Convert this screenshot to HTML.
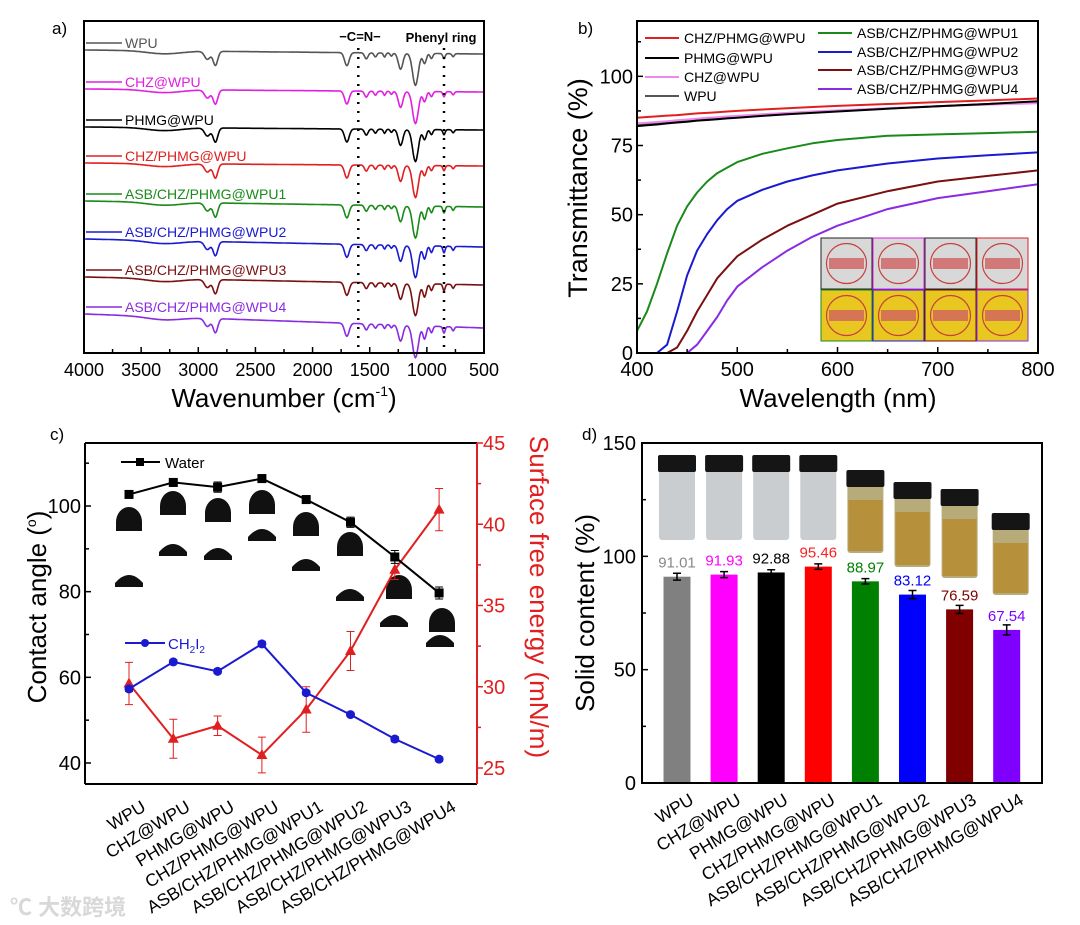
<!DOCTYPE html>
<html><head><meta charset="utf-8">
<style>
html,body{margin:0;padding:0;background:#fff;}
svg{display:block;font-family:"Liberation Sans","Noto Sans CJK SC",sans-serif;}
</style></head>
<body>
<svg id="fig" width="1080" height="925" viewBox="0 0 1080 925" xmlns="http://www.w3.org/2000/svg">
<g id="pa"></g>
<g id="pb"></g>
<g id="pc"></g>
<g id="pd"></g>
<text x="10" y="915" font-size="22" fill="#d8d8d8" font-weight="bold">℃ 大数跨境</text>
</svg>
<script>
// ---------- shared data ----------
const sampleNames = ["WPU","CHZ@WPU","PHMG@WPU","CHZ/PHMG@WPU","ASB/CHZ/PHMG@WPU1","ASB/CHZ/PHMG@WPU2","ASB/CHZ/PHMG@WPU3","ASB/CHZ/PHMG@WPU4"];
const sampleColors = ["#555555","#e020e0","#000000","#e02020","#1a8a1a","#1a1ad0","#7a1010","#8a2be2"];
// panel a: FTIR
const ftirDipCenters = [3300,2920,2850,1700,1530,1450,1370,1310,1230,1100,1020,960,850,770];
const ftirDipDepths  = [3,   8,   14,  13,  6,   4,   4,   3,   16,  32,  10,  5,   5,   3];
const ftirDipWidths  = [150, 25,  20,  20,  15,  12,  10,  10,  20,  25,  15,  12,  10,  10];
const ftirBaselines  = [50,89,127,163,201,239,277,314];
const ftirRightDrift = [4,3,3,3,6,8,8,14];
const ftirXTicks = [4000,3500,3000,2500,2000,1500,1000,500];
// panel b: UV-vis
const uvX = [400,410,420,430,440,450,460,470,480,490,500,525,550,575,600,650,700,750,800];
const uvRed   = [85,85.3,85.5,85.8,86,86.3,86.6,86.8,87,87.3,87.5,88,88.5,88.9,89.3,90,90.7,91.3,92];
const uvBlack = [82,82.3,82.6,83,83.3,83.6,84,84.2,84.5,84.8,85,85.7,86.3,86.8,87.3,88.3,89.2,90,91];
const uvPink  = [83,83.2,83.5,83.8,84.1,84.4,84.7,85,85.2,85.5,85.7,86.3,86.8,87.3,87.7,88.5,89.2,89.8,90.3];
const uvGray  = [82.5,82.8,83,83.3,83.6,83.9,84.2,84.5,84.8,85,85.3,86,86.5,87,87.5,88.4,89.2,90,90.8];
const uvGreen = [8,15,25,36,46,53,58,62,65,67,69,72,74,75.8,77,78.5,79,79.5,80];
const uvBlue  = [0,0,0,3,15,28,37,43,48,52,55,59,62,64.2,66,68.5,70.3,71.5,72.5];
const uvDark  = [0,0,0,0,2,8,15,21,27,31,35,41,46,50,54,58.5,62,64,66];
const uvPurp  = [0,0,0,0,0,0,3,8,13,19,24,31,37,42,46,52,56,58.5,61];
const uvXTicks = [400,500,600,700,800];
const uvYTicks = [0,25,50,75,100];
// panel c
const waterAngle = [102.7,105.5,104.4,106.4,101.5,96.2,88.1,79.7];
const waterErr   = [0.8,0.9,1.2,0.9,0.9,1.2,1.5,1.4];
const diioAngle  = [57.3,63.6,61.4,67.8,56.4,51.3,45.6,40.9];
const diioErr    = [0.6,0.5,0.5,0.6,0.5,0.4,0.6,0.5];
const sfe        = [30.2,26.8,27.6,25.8,28.6,32.2,37.2,40.9];
const sfeErr     = [1.3,1.2,0.6,1.1,1.4,1.2,0.6,1.3];
const caYTicks = [40,60,80,100];
const sfeYTicks = [25,30,35,40,45];
// panel d
const solidContent = [91.01,91.93,92.88,95.46,88.97,83.12,76.59,67.54];
const solidErr     = [1.5,1.3,1.2,1.2,1.2,1.8,1.8,2.2];
const solidLabels  = ["91.01","91.93","92.88","95.46","88.97","83.12","76.59","67.54"];
const solidYTicks  = [0,50,100,150];

const NS="http://www.w3.org/2000/svg";
function mk(parent,tag,attrs,txt){const e=document.createElementNS(NS,tag);for(const k in attrs)e.setAttribute(k,attrs[k]);if(txt!==undefined)e.textContent=txt;parent.appendChild(e);return e;}

// ---------- Panel A ----------
(function(){
const g=document.getElementById('pa');
const L=84,R=484,T=21,B=353;
const xs=w=>L+(4000-w)*(R-L)/3500;
mk(g,'text',{x:52,y:34,'font-size':17,},'a)');
ftirBaselines.forEach((b,i)=>{
  let d='';
  for(let w=3990;w>=505;w-=5){
    let y=b+ftirRightDrift[i]*(4000-w)/3500;
    for(let k=0;k<ftirDipCenters.length;k++){
      const s=(i>=4&&k>=10)?1.3:1;
      y+=ftirDipDepths[k]*s*Math.exp(-Math.pow((w-ftirDipCenters[k])/ftirDipWidths[k],2)/2);
    }
    d+=(d?'L':'M')+xs(w).toFixed(1)+','+y.toFixed(1);
  }
  const p=mk(g,'path',{d:d,fill:'none',stroke:sampleColors[i],'stroke-width':1.6});
  
  
  const ly=b-7;
  const ln=mk(g,'line',{x1:86,x2:122,y1:ly,y2:ly,stroke:sampleColors[i],'stroke-width':1.6});
  
  
  const t=mk(g,'text',{x:125,y:ly+5,'font-size':14,fill:sampleColors[i]},sampleNames[i]);
  
  
});
[1600,850].forEach(w=>{const l=mk(g,'line',{x1:xs(w),x2:xs(w),y1:48,y2:353,stroke:'#000','stroke-width':2.5,'stroke-dasharray':'2,7'});
});
mk(g,'text',{x:360,y:41,'font-size':13,'font-weight':'bold','text-anchor':'middle',},'−C=N−');
mk(g,'text',{x:441,y:42,'font-size':13,'font-weight':'bold','text-anchor':'middle',},'Phenyl ring');
mk(g,'rect',{x:L,y:T,width:R-L,height:B-T,fill:'none',stroke:'#000','stroke-width':2,});
for(let w=4000;w>=500;w-=250){const x=xs(w);mk(g,'line',{x1:x,x2:x,y1:B,y2:B-(w%500==0?6:4),stroke:'#000','stroke-width':1.5});}
ftirXTicks.forEach(w=>{const t=mk(g,'text',{x:xs(w),y:376,'font-size':18,'text-anchor':'middle'},String(w));
});
const xl=mk(g,'text',{x:284,y:407,'font-size':26,'text-anchor':'middle',},'Wavenumber (cm');
mk(xl,'tspan',{'font-size':14,dy:-11},'-1');mk(xl,'tspan',{dy:11},')');
})();

// ---------- Panel B ----------
(function(){
const g=document.getElementById('pb');
const L=637,R=1038,T=21,B=353;
const xs=v=>L+(v-400)*(R-L)/400, ys=v=>B-v*(B-T)/120;
mk(g,'text',{x:578,y:34,'font-size':17,},'b)');
const bordersTop=['#222','#e020e0','#222','#e02020'],bordersBot=['#1a8a1a','#1a1ad0','#7a1010','#8a2be2'];
for(let r=0;r<2;r++)for(let c=0;c<4;c++){
  const x=821+c*52,y=238+r*52;
  const rc=mk(g,'rect',{x:x,y:y,width:51,height:51,fill:r?'#e8c820':'#d8d8d8',stroke:r?bordersBot[c]:bordersTop[c],'stroke-width':1});
  
  mk(g,'circle',{cx:x+25.5,cy:y+25.5,r:20,fill:'none',stroke:'#c84040','stroke-width':1.2});
  mk(g,'rect',{x:x+8,y:y+20,width:35,height:11,fill:'#d06060',opacity:0.8});
}
const series=[[uvGray,'#555'],[uvPink,'#ee88ee'],[uvBlack,'#000'],[uvRed,'#e02020'],[uvGreen,'#1a8a1a'],[uvBlue,'#1a1ad0'],[uvDark,'#7a1010'],[uvPurp,'#8a2be2']];
series.forEach((s,i)=>{
  const pts=uvX.map((v,j)=>xs(v).toFixed(1)+','+ys(s[0][j]).toFixed(1)).join(' ');
  const p=mk(g,'polyline',{points:pts,fill:'none',stroke:s[1],'stroke-width':2,'stroke-linejoin':'round'});
  
});
mk(g,'rect',{x:L,y:T,width:R-L,height:B-T,fill:'none',stroke:'#000','stroke-width':2,});
for(let v=400;v<=800;v+=50){mk(g,'line',{x1:xs(v),x2:xs(v),y1:B,y2:B-(v%100==0?6:4),stroke:'#000','stroke-width':1.5});}
for(let v=0;v<=112.5;v+=12.5){mk(g,'line',{x1:L,x2:L+(v%25==0?6:4),y1:ys(v),y2:ys(v),stroke:'#000','stroke-width':1.5});}
uvXTicks.forEach(v=>{const t=mk(g,'text',{x:xs(v),y:376,'font-size':20,'text-anchor':'middle'},String(v));
});
uvYTicks.forEach(v=>{const t=mk(g,'text',{x:L-4,y:ys(v)+7,'font-size':20,'text-anchor':'end'},String(v));
});
mk(g,'text',{x:838,y:407,'font-size':26,'text-anchor':'middle',},'Wavelength (nm)');
mk(g,'text',{x:0,y:0,'font-size':27,'text-anchor':'middle',transform:'translate(587,188) rotate(-90)',},'Transmittance (%)');
const leg=[['CHZ/PHMG@WPU','#e02020',645,684,38],['PHMG@WPU','#000',645,684,58],['CHZ@WPU','#ee88ee',645,684,77],['WPU','#555',645,684,96],
['ASB/CHZ/PHMG@WPU1','#1a8a1a',818,857,33],['ASB/CHZ/PHMG@WPU2','#1a1ad0',818,857,52],['ASB/CHZ/PHMG@WPU3','#7a1010',818,857,70],['ASB/CHZ/PHMG@WPU4','#8a2be2',818,857,89]];
leg.forEach(l=>{mk(g,'line',{x1:l[2],x2:l[2]+34,y1:l[4],y2:l[4],stroke:l[1],'stroke-width':2});
const t=mk(g,'text',{x:l[3],y:l[4]+5,'font-size':14},l[0]);});
})();

// ---------- Panel C ----------
(function(){
const g=document.getElementById('pc');
const L=85,R=477,T=443,B=784;
const xs=i=>129+i*44.3;
const yl=v=>763-(v-40)*257/60;
const yr=v=>768-(v-25)*325/20;
mk(g,'text',{x:50,y:440,'font-size':17,},'c)');
const wdy=[522,506,513,505,527,547,590,623];
const ddy=[583,552,556,537,567,597,623,643];
sampleNames.forEach((n,i)=>{
  const cxw=[129,173,218,262,306,350,399,442][i], cxd=[129,173,218,262,306,350,394,440][i];
  const w=mk(g,'path',{d:`M${cxw-13},${wdy[i]+9} L${cxw-13},${wdy[i]} A13,15 0 0 1 ${cxw+13},${wdy[i]} L${cxw+13},${wdy[i]+9}Z`,fill:'#111'});
  
  const d=mk(g,'path',{d:`M${cxd-14},${ddy[i]+4} L${cxd-14},${ddy[i]} Q${cxd},${ddy[i]-16} ${cxd+14},${ddy[i]} L${cxd+14},${ddy[i]+4}Z`,fill:'#111'});
  
});
function line(vals,errs,ys,col,mark,nm){
  const pts=vals.map((v,i)=>xs(i)+','+ys(v)).join(' ');
  const p=mk(g,'polyline',{points:pts,fill:'none',stroke:col,'stroke-width':2});
  
  vals.forEach((v,i)=>{
    const x=xs(i),y1=ys(v+errs[i]),y2=ys(v-errs[i]);
    mk(g,'path',{d:`M${x},${y1}V${y2}M${x-4},${y1}H${x+4}M${x-4},${y2}H${x+4}`,stroke:col,'stroke-width':1,fill:'none'});
    let m;
    if(mark=='sq')m=mk(g,'rect',{x:x-4.5,y:ys(v)-4.5,width:9,height:9,fill:col});
    else if(mark=='ci')m=mk(g,'circle',{cx:x,cy:ys(v),r:4.5,fill:col});
    else m=mk(g,'polygon',{points:`${x},${ys(v)-6} ${x-5.5},${ys(v)+4} ${x+5.5},${ys(v)+4}`,fill:col});
    
  });
}
line(sfe,sfeErr,yr,'#e02020','tr','surface-energy');
line(waterAngle,waterErr,yl,'#000','sq','water-angle');
line(diioAngle,diioErr,yl,'#1a1ad0','ci','diiodomethane-angle');
mk(g,'line',{x1:121,x2:160,y1:462,y2:462,stroke:'#000','stroke-width':2});
mk(g,'rect',{x:136,y:458,width:8,height:8,fill:'#000'});
mk(g,'text',{x:165,y:468,'font-size':15,},'Water');
mk(g,'line',{x1:125,x2:165,y1:643,y2:643,stroke:'#1a1ad0','stroke-width':2});
mk(g,'circle',{cx:145,cy:643,r:4,fill:'#1a1ad0'});
const ct=mk(g,'text',{x:168,y:649,'font-size':15,fill:'#1a1ad0',},'CH');
mk(ct,'tspan',{'font-size':10,dy:4},'2');mk(ct,'tspan',{dy:-4},'I');mk(ct,'tspan',{'font-size':10,dy:4},'2');
mk(g,'line',{x1:L,x2:L,y1:T,y2:B,stroke:'#000','stroke-width':2});
mk(g,'line',{x1:L,x2:R,y1:T,y2:T,stroke:'#000','stroke-width':2});
mk(g,'line',{x1:L,x2:R,y1:B,y2:B,stroke:'#000','stroke-width':2});
mk(g,'line',{x1:R,x2:R,y1:T,y2:B,stroke:'#e02020','stroke-width':2,});
for(let v=40;v<=110;v+=10)mk(g,'line',{x1:L,x2:L+(v%20==0?6:4),y1:yl(v),y2:yl(v),stroke:'#000','stroke-width':1.5});
for(let v=25;v<=45;v+=2.5)mk(g,'line',{x1:R,x2:R+(v%5==0?6:4),y1:yr(v),y2:yr(v),stroke:'#e02020','stroke-width':1.5});
caYTicks.forEach(v=>{const t=mk(g,'text',{x:L-4,y:yl(v)+7,'font-size':20,'text-anchor':'end'},String(v));});
sfeYTicks.forEach(v=>{const t=mk(g,'text',{x:R+6,y:yr(v)+7,'font-size':20,fill:'#e02020'},String(v));});
sampleNames.forEach((n,i)=>{const t=mk(g,'text',{x:0,y:0,'font-size':17.5,'text-anchor':'end',transform:`translate(${xs(i)+18},810) rotate(-31)`},n);
});
const yt=mk(g,'text',{x:0,y:0,'font-size':26,'text-anchor':'middle',transform:'translate(46,607) rotate(-90)',},'Contact angle (');
mk(yt,'tspan',{'font-size':14,dy:-10},'o');mk(yt,'tspan',{dy:10},')');
mk(g,'text',{x:0,y:0,'font-size':26,fill:'#e02020','text-anchor':'middle',transform:'translate(530,597) rotate(90)',},'Surface free energy (mN/m)');
})();

// ---------- Panel D ----------
(function(){
const g=document.getElementById('pd');
const L=642,R=1042,T=443,B=783;
const xs=i=>677+i*47.1, ys=v=>B-v*(B-T)/150;
const barCols=['#808080','#ff00ff','#000000','#ff0000','#008000','#0000ff','#800000','#8000ff'];
const labCols=['#888888','#ff00ff','#000000','#ff2020','#008000','#0000ff','#800000','#8000ff'];
mk(g,'text',{x:582,y:440,'font-size':17,},'d)');
const capY=[455,455,455,455,470,482,489,513], botY=[540,540,540,540,553,567,578,595];
sampleNames.forEach((n,i)=>{
  const x=xs(i)+(i==7?4:0);
  const grp=mk(g,'g',{});
  
  mk(grp,'rect',{x:x-18,y:capY[i]+14,width:36,height:botY[i]-capY[i]-14,rx:3,fill:i<4?'#c9cdcf':'#b8ab7a'});
  if(i>=4)mk(grp,'rect',{x:x-17,y:capY[i]+30,width:34,height:botY[i]-capY[i]-32,fill:'#b58a2a',opacity:0.8});
  mk(grp,'rect',{x:x-19,y:capY[i],width:38,height:17,rx:2,fill:'#151515'});
});
sampleNames.forEach((n,i)=>{
  const r=mk(g,'rect',{x:xs(i)-13.5,y:ys(solidContent[i]),width:27,height:B-ys(solidContent[i]),fill:barCols[i]});
  
  const x=xs(i),y1=ys(solidContent[i]+solidErr[i]),y2=ys(solidContent[i]-solidErr[i]);
  mk(g,'path',{d:`M${x},${y1}V${y2}M${x-4},${y1}H${x+4}M${x-4},${y2}H${x+4}`,stroke:'#000','stroke-width':1.5,fill:'none'});
  const t=mk(g,'text',{x:x,y:ys(solidContent[i])-9,'font-size':15,'text-anchor':'middle',fill:labCols[i]},solidLabels[i]);
  
});
mk(g,'rect',{x:L,y:T,width:R-L,height:B-T,fill:'none',stroke:'#000','stroke-width':2,});
for(let v=0;v<=150;v+=25)mk(g,'line',{x1:L,x2:L+(v%50==0?6:4),y1:ys(v),y2:ys(v),stroke:'#000','stroke-width':1.5});
solidYTicks.forEach(v=>{const t=mk(g,'text',{x:L-6,y:ys(v)+7,'font-size':20,'text-anchor':'end'},String(v));});
sampleNames.forEach((n,i)=>{const t=mk(g,'text',{x:0,y:0,'font-size':17.5,'text-anchor':'end',transform:`translate(${xs(i)+18},803) rotate(-31)`},n);
});
mk(g,'text',{x:0,y:0,'font-size':26,'text-anchor':'middle',transform:'translate(594,613) rotate(-90)',},'Solid content (%)');
})();
</script>
</body></html>
